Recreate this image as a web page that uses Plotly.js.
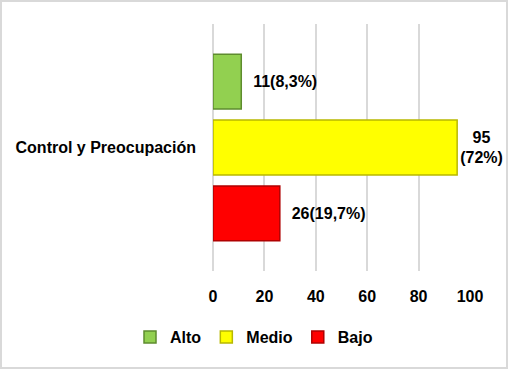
<!DOCTYPE html>
<html>
<head>
<meta charset="utf-8">
<script src="https://cdn.plot.ly/plotly-3.0.1.min.js"></script>
<style>
html,body{margin:0;padding:0;background:#fff;}
#wrap{position:absolute;left:0;top:0;width:508px;height:369px;box-sizing:border-box;border:2px solid #d9d9d9;background:#fff;}
#chart{width:504px;height:365px;}
</style>
</head>
<body>
<div id="wrap"><div id="chart"></div></div>
<script>
const categories = ["Control y Preocupación"];
const seriesNames = ["Alto", "Medio", "Bajo"];
const altoValues = [11];
const medioValues = [95];
const bajoValues = [26];
const altoLabels = ["11(8,3%)"];
const medioLabels = ["95<br>(72%)"];
const bajoLabels = ["26(19,7%)"];
const xTickValues = [0, 20, 40, 60, 80, 100];

const fontFam = "Liberation Sans, Arial, sans-serif";
const fills = ["#92D050", "#FFFF00", "#FF0000"];
const edges = ["#5E8C2E", "#B8B800", "#B00000"];
const valueSets = [altoValues, medioValues, bajoValues];
const labelSets = [altoLabels, medioLabels, bajoLabels];

const traces = seriesNames.map((name, i) => ({
  type: "bar",
  orientation: "h",
  name: name,
  y: categories,
  x: valueSets[i],
  text: labelSets[i].map(t => t.indexOf("<br>") >= 0 ? t : "  " + t),
  textposition: "outside",
  cliponaxis: false,
  textfont: {family: fontFam, size: 16, color: "#000", weight: "bold"},
  marker: {color: fills[i], line: {color: edges[i], width: 1.5}},
  hoverinfo: "skip"
}));

const layout = {
  width: 504,
  height: 365,
  margin: {l: 211, r: 36, t: 22, b: 96},
  paper_bgcolor: "#fff",
  plot_bgcolor: "#fff",
  barmode: "group",
  bargap: 0.2,
  bargroupgap: 0.167,
  showlegend: true,
  legend: {
    orientation: "h",
    xref: "container", yref: "container",
    x: 0.5, xanchor: "center",
    y: 0.082, yanchor: "middle",
    font: {family: fontFam, size: 16, color: "#000", weight: "bold"},
    itemwidth: 30,
    tracegroupgap: 0
  },
  xaxis: {
    range: [0, 100],
    tickvals: xTickValues,
    showgrid: true,
    gridcolor: "#d9d9d9",
    gridwidth: 2,
    zeroline: true,
    zerolinecolor: "#d9d9d9",
    zerolinewidth: 2,
    showline: false,
    ticks: "",
    ticklabelstandoff: 14,
    tickfont: {family: fontFam, size: 16, color: "#000", weight: "bold"},
    fixedrange: true
  },
  yaxis: {
    autorange: "reversed",
    showgrid: false,
    zeroline: false,
    showline: false,
    ticks: "",
    ticklabelstandoff: 16,
    tickfont: {family: fontFam, size: 16, color: "#000", weight: "bold"},
    fixedrange: true
  }
};

Plotly.newPlot("chart", traces, layout, {displayModeBar: false, staticPlot: true});
</script>
</body>
</html>
